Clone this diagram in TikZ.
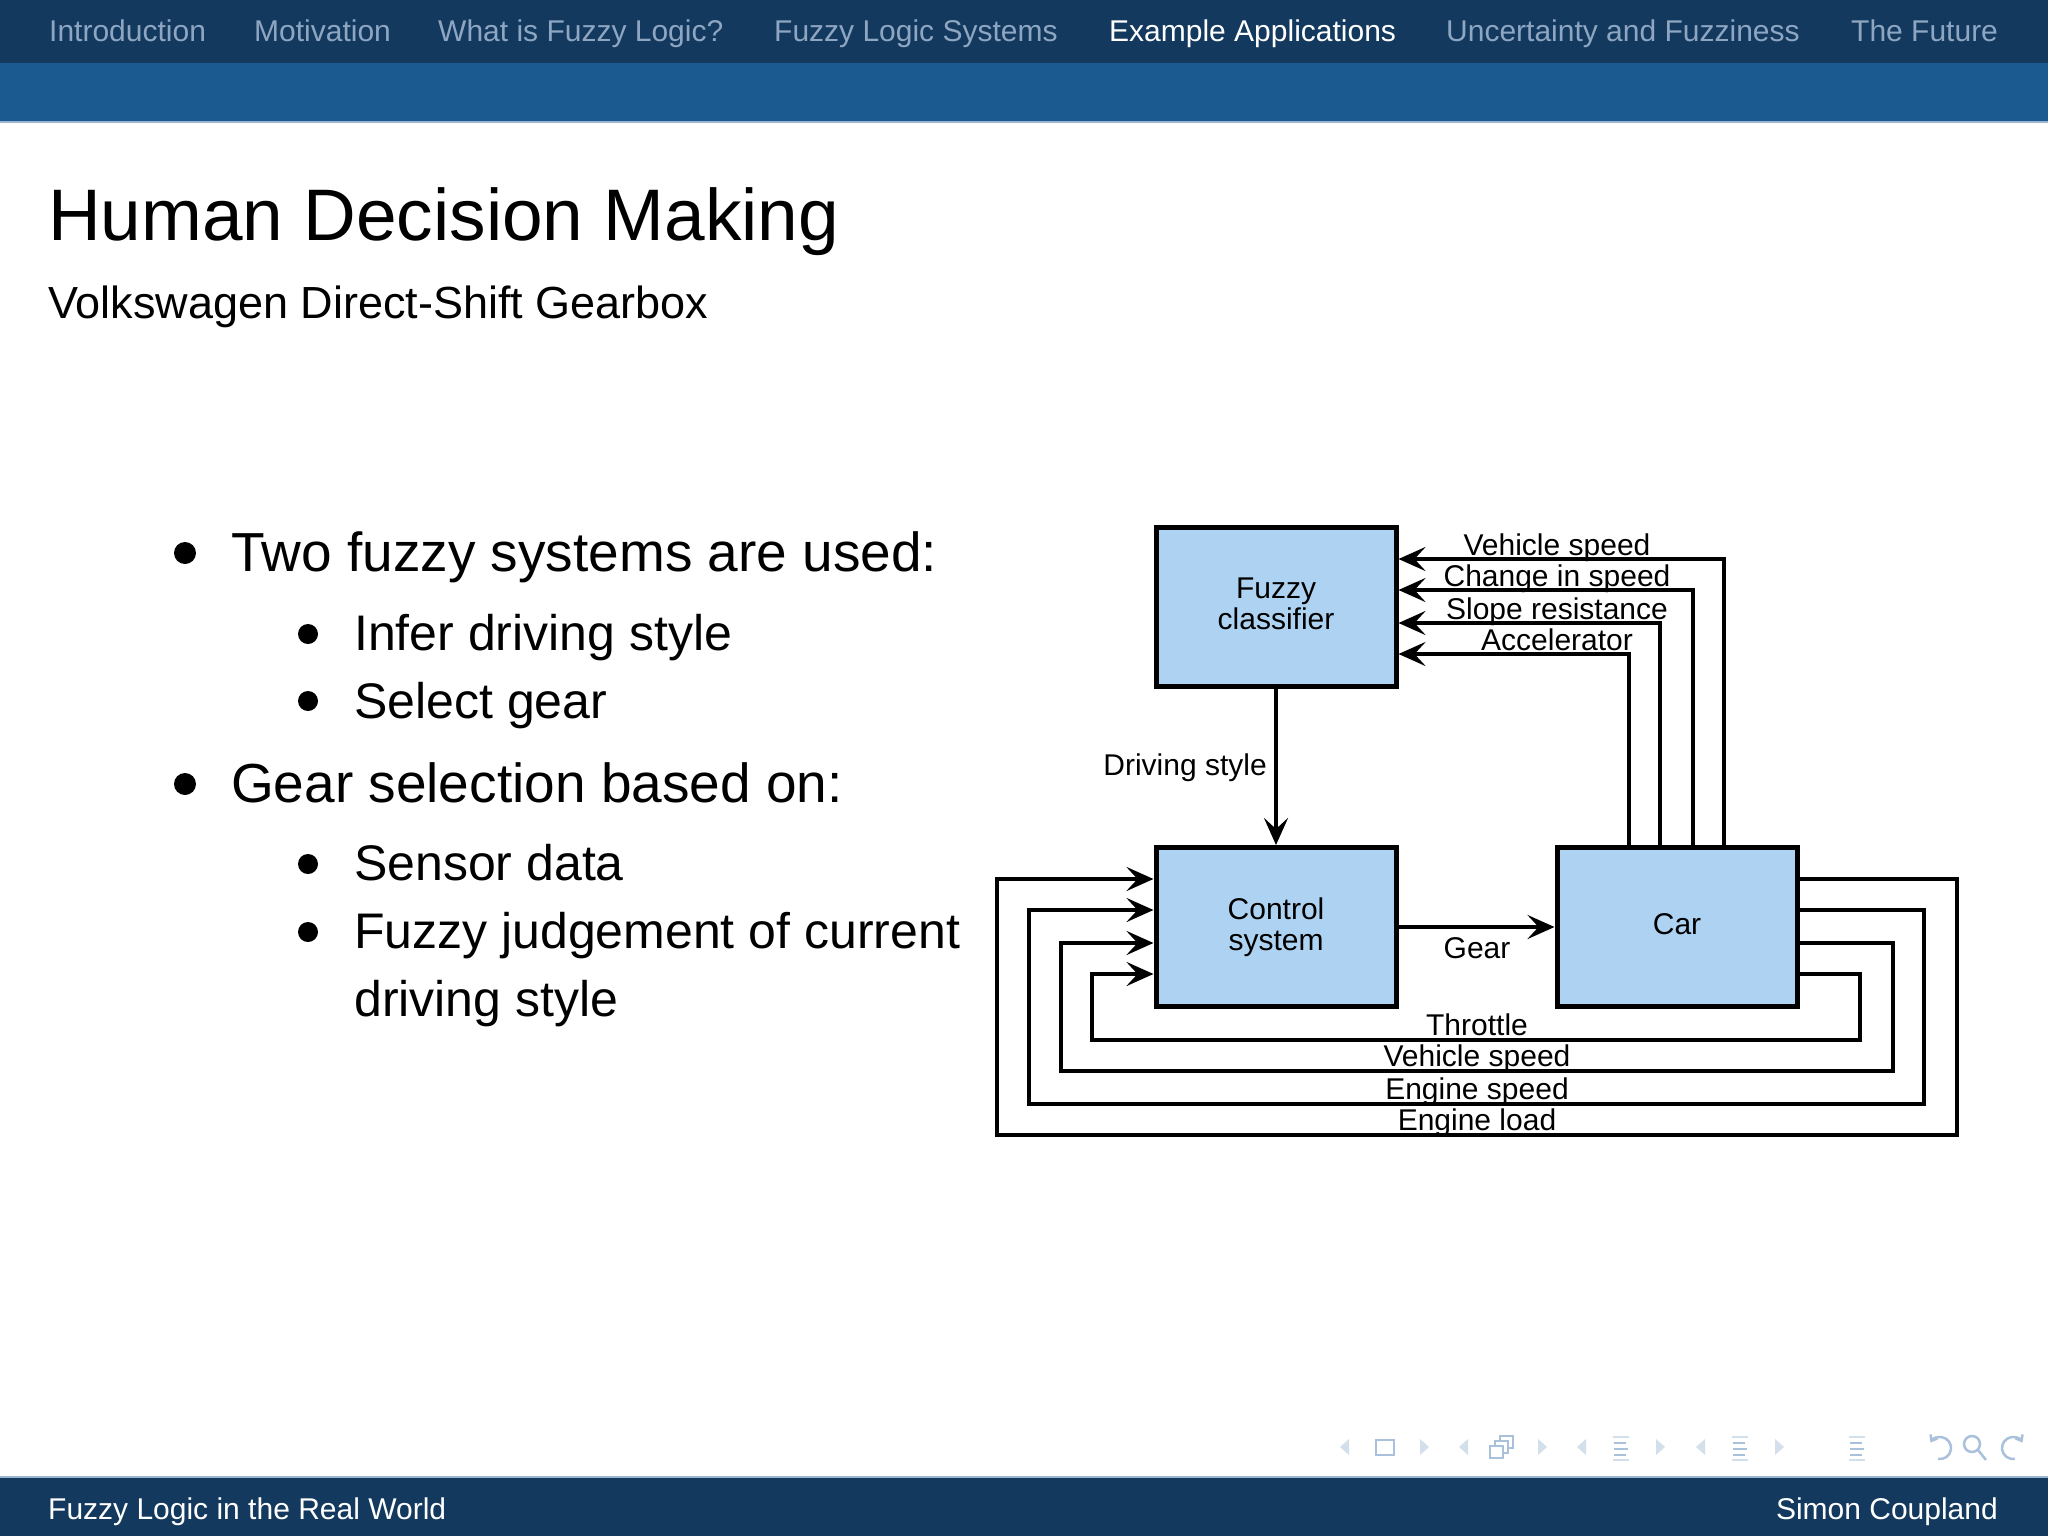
\documentclass[tikz,border=0pt]{standalone}
\usepackage{fontspec}
\setmainfont{Liberation Sans}
\usetikzlibrary{arrows.meta}
\definecolor{navdark}{HTML}{133A5E}
\definecolor{navmid}{HTML}{1B5A91}
\definecolor{navtext}{HTML}{8EA6C2}
\definecolor{navline}{HTML}{9BB5CF}
\definecolor{boxfill}{HTML}{AED3F2}
\definecolor{symcol}{HTML}{A9C1DA}
\definecolor{symlight}{HTML}{D3DFEA}
\newcommand\fsz[1]{\fontsize{#1}{#1}\selectfont}
\tikzset{
  txt/.style={inner sep=0pt, anchor=base west},
  navitem/.style={txt, text=navtext, font=\fsz{30}},
  navon/.style={txt, text=white, font=\fsz{30}},
  mainitem/.style={txt, font=\fsz{55}},
  subitem/.style={txt, font=\fsz{50}},
  lab/.style={inner sep=0pt, anchor=base, font=\fsz{30}},
  blk/.style={draw=black, line width=5pt, fill=boxfill, minimum width=240pt, minimum height=159pt, inner sep=0pt, align=center, font=\fontsize{30}{31}\selectfont},
  arr/.style={line width=4pt, -{Stealth[length=27pt,width=24pt,inset=11pt]}},
  feed/.style={line width=4pt, line join=miter, -{Stealth[length=27pt,width=24pt,inset=11pt]}},
  ltri/.style={fill=symlight},
  symline/.style={draw=symcol, line width=2.5pt},
}
\begin{document}
\begin{tikzpicture}[x=1pt,y=-1pt]
\useasboundingbox (0,0) rectangle (2048,1536);
\fill[white] (0,0) rectangle (2048,1536);
% header bars
\fill[navdark] (0,0) rectangle (2048,63);
\fill[navmid] (0,63) rectangle (2048,121);
\fill[navline] (0,121) rectangle (2048,123);
% footer bar
\fill[navline] (0,1476) rectangle (2048,1478);
\fill[navdark] (0,1478) rectangle (2048,1536);
% navigation items
\node[navitem] (n1) at (49,42) {Introduction};
\node[navitem] (n2) at (254,42) {Motivation};
\node[navitem] (n3) at (438,42) {What is Fuzzy Logic?};
\node[navitem] (n4) at (774,42) {Fuzzy Logic Systems};
\node[navon] (n5) at (1109,42) {Example Applications};
\node[navitem] (n6) at (1446,42) {Uncertainty and Fuzziness};
\node[navitem] (n7) at (1851,42) {The Future};
% title
\node[txt, font=\fsz{73}] (title) at (48,240) {Human Decision Making};
\node[txt, font=\fsz{45}] (subtitle) at (48,318) {Volkswagen Direct-Shift Gearbox};
% bullets
\fill (185,553) circle (11);
\node[mainitem] (b1) at (231,571) {Two fuzzy systems are used:};
\fill (308,634) circle (10);
\node[subitem] (b11) at (354,650) {Infer driving style};
\fill (308,701) circle (10);
\node[subitem] (b12) at (354,718) {Select gear};
\fill (185,784) circle (11);
\node[mainitem] (b2) at (231,802) {Gear selection based on:};
\fill (308,864) circle (10);
\node[subitem] (b21) at (354,880) {Sensor data};
\fill (308,932) circle (10);
\node[subitem] (b22) at (354,948) {Fuzzy judgement of current};
\node[subitem] (b23) at (354,1016) {driving style};
% diagram boxes
\node[blk] (fuzzy) at (1276,607) {Fuzzy\\classifier\vphantom{p}};
\node[blk] (ctrl) at (1276,927) {Control\\system};
\node[blk] (car) at (1677,927) {Car\vphantom{y}};
% driving style and gear
\draw[arr] (fuzzy) -- (ctrl);
\node[lab, anchor=base east] (lds) at (1267,775) {Driving style};
\draw[arr] (ctrl) -- (car);
\node[lab] (lgear) at (1477,958) {Gear};
% inputs to fuzzy classifier
\draw[arr] (car.north -| 1724,0) |- (fuzzy.east |- 0,559);
\draw[arr] (car.north -| 1693,0) |- (fuzzy.east |- 0,590);
\draw[arr] (car.north -| 1660,0) |- (fuzzy.east |- 0,623);
\draw[arr] (car.north -| 1629,0) |- (fuzzy.east |- 0,654);
\node[lab] (l1) at (1557,555) {Vehicle speed};
\node[lab] (l2) at (1557,586) {Change in speed};
\node[lab] (l3) at (1557,619) {Slope resistance};
\node[lab] (l4) at (1557,650) {Accelerator};
% feedback loops
\draw[feed] (car.east |- 0,879) -| (1957,1135) -| (997,879) -- (ctrl.west |- 0,879);
\draw[feed] (car.east |- 0,910) -| (1924,1104) -| (1029,910) -- (ctrl.west |- 0,910);
\draw[feed] (car.east |- 0,943) -| (1893,1071) -| (1061,943) -- (ctrl.west |- 0,943);
\draw[feed] (car.east |- 0,974) -| (1860,1040) -| (1092,974) -- (ctrl.west |- 0,974);
\node[lab] (f1) at (1477,1035) {Throttle};
\node[lab] (f2) at (1477,1066) {Vehicle speed};
\node[lab] (f3) at (1477,1099) {Engine speed};
\node[lab] (f4) at (1477,1130) {Engine load};
% footer texts
\node[txt, text=white, font=\fsz{30}] (foot1) at (48,1519) {Fuzzy Logic in the Real World};
\node[inner sep=0pt, anchor=base east, text=white, font=\fsz{30}] (foot2) at (1998,1519) {Simon Coupland};
% navigation symbols
\foreach \cx in {1345,1464,1582,1701} {
  \fill[ltri] (\cx+4,1439) -- (\cx-5,1447) -- (\cx+4,1455) -- cycle;
}
\foreach \cx in {1424,1542,1660,1779} {
  \fill[ltri] (\cx-4,1439) -- (\cx+5,1447) -- (\cx-4,1455) -- cycle;
}
\draw[symline] (1376,1440) rectangle (1394,1455);
\draw[symline] (1500,1436) rectangle (1513,1448);
\draw[symline, fill=white] (1495,1441) rectangle (1508,1453);
\draw[symline, fill=white] (1490,1446) rectangle (1503,1458);
\foreach \cx in {1621,1740,1857} {
  \draw[symline, draw=symlight] (\cx-8,1437) -- (\cx+8,1437);
  \draw[symline] (\cx-7,1443) -- (\cx+5,1443);
  \draw[symline] (\cx-7,1449) -- (\cx+7,1449);
  \draw[symline] (\cx-7,1455) -- (\cx+5,1455);
  \draw[symline, draw=symlight] (\cx-8,1460) -- (\cx+8,1460);
}
\begin{scope}[shift={(1940,1448)}, y=1pt]
  \draw[symline, -{Straight Barb[length=5pt,width=8pt]}] (-100:11) arc[start angle=-100, end angle=150, radius=11];
\end{scope}
\draw[symline] (1972,1444) circle (8);
\draw[symline] (1978,1450) -- (1986,1460);
\begin{scope}[shift={(2013,1448)}, y=1pt]
  \draw[symline, -{Straight Barb[length=5pt,width=8pt]}] (-80:11) arc[start angle=-80, end angle=-330, radius=11];
\end{scope}
\end{tikzpicture}
\end{document}
